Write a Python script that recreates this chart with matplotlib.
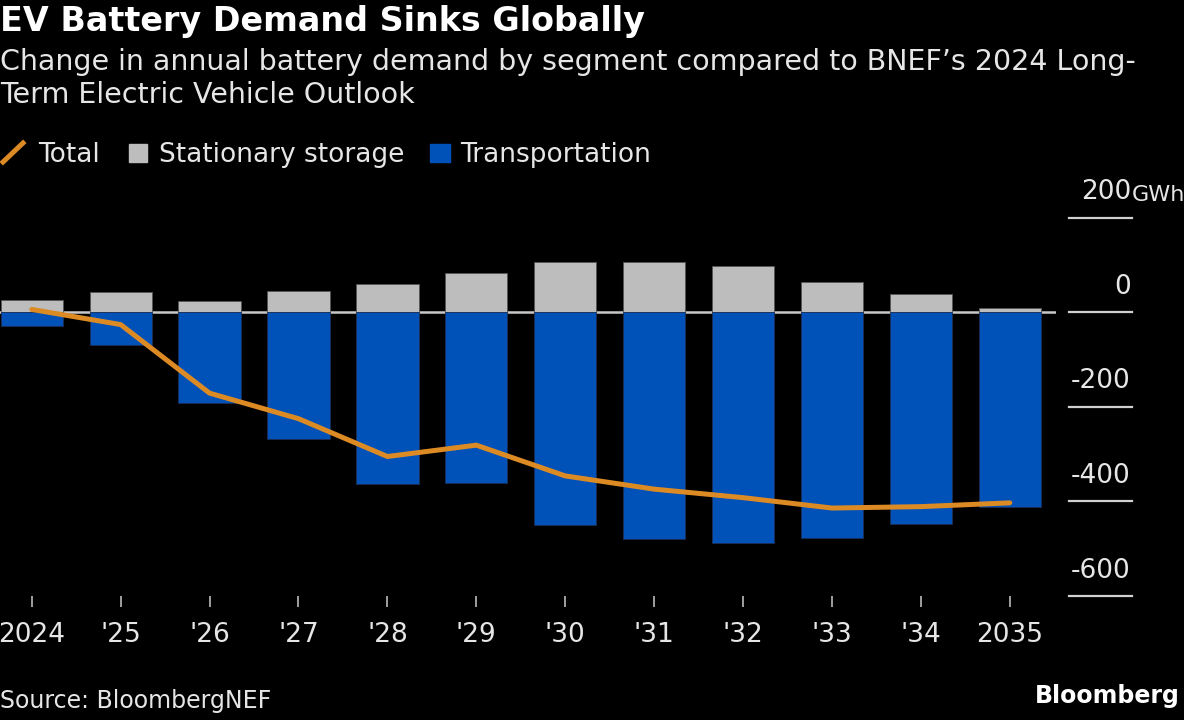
import matplotlib
matplotlib.use("Agg")
import matplotlib.pyplot as plt
import matplotlib.transforms as mtransforms
from matplotlib.lines import Line2D
from matplotlib.patches import Rectangle
import numpy as np

# values (GWh, change vs 2024 outlook)
years = ['2024', "'25", "'26", "'27", "'28", "'29", "'30", "'31", "'32", "'33", "'34", '2035']
stationary = [27, 43, 23, 44, 60, 82, 107, 107, 98, 65, 38, 9]
transport = [-30, -70, -192, -267, -364, -362, -450, -479, -488, -477, -448, -411]
total = [6, -26, -171, -225, -305, -281, -346, -374, -392, -414, -411, -403]
yticks = [200, 0, -200, -400, -600]

BG = 'black'
TXT = '#e6e6e6'
GRAY = '#bdbdbd'
BLUE = '#0051b8'
ORANGE = '#dc8a24'

W, H = 1184, 720
plt.rcParams['font.family'] = 'DejaVu Sans'

fig = plt.figure(figsize=(W / 100, H / 100), dpi=100, facecolor=BG)

def fx(px):
    return px / W

def fy(py):
    return 1 - py / H

# plot area: left edge 0, right 1056, y 200 at 217.7px, -600 at 596px
ax = fig.add_axes([fx(0), fy(596), fx(1056), (596 - 217.7) / H])
ax.set_facecolor(BG)
x = np.arange(len(years))

ax.axhline(0, color='#c8c8c8', lw=1.8, zorder=1)
ax.bar(x, stationary, width=0.7, color=GRAY, edgecolor='#555555', linewidth=0.6, zorder=2)
ax.bar(x, transport, width=0.7, color=BLUE, edgecolor='#1c2f55', linewidth=0.6, zorder=2)
ax.plot(x, total, color=ORANGE, lw=3.6, zorder=3, solid_capstyle='round', solid_joinstyle='round')

ax.set_xlim(-0.357, 11.52)
ax.set_ylim(-600, 200)
for s in ax.spines.values():
    s.set_visible(False)
ax.set_yticks([])
ax.set_xticks(x)
ax.set_xticklabels(years, color=TXT, fontsize=19)
ax.tick_params(axis='x', direction='out', length=8, width=1.2, color='#bbbbbb', pad=11)

# right-hand value scale: short rules with labels above them
trans = mtransforms.blended_transform_factory(fig.transFigure, ax.transData)
for v in yticks:
    ax.add_line(Line2D([fx(1069), fx(1132)], [v, v], transform=trans, color='#d0d0d0', lw=1.6, clip_on=False))
    ax.annotate(str(v), xy=(fx(1131), v), xycoords=trans, xytext=(0, 9), textcoords='offset points',
                ha='right', va='bottom', color=TXT, fontsize=19, annotation_clip=False)
ax.annotate('GWh', xy=(fx(1132), 200), xycoords=trans, xytext=(0, 9), textcoords='offset points',
            ha='left', va='bottom', color=TXT, fontsize=16, annotation_clip=False)

# titles
fig.text(fx(0), fy(31), 'EV Battery Demand Sinks Globally', color='white', fontsize=24,
         fontweight='bold', va='baseline', ha='left')
fig.text(fx(0), fy(70), 'Change in annual battery demand by segment compared to BNEF\u2019s 2024 Long-',
         color=TXT, fontsize=20.5, va='baseline', ha='left')
fig.text(fx(0), fy(103), 'Term Electric Vehicle Outlook', color=TXT, fontsize=20.5, va='baseline', ha='left')

# legend
fig.add_artist(Line2D([fx(3), fx(23)], [fy(162), fy(143)], color=ORANGE, lw=3.6, transform=fig.transFigure))
fig.text(fx(38), fy(162), 'Total', color=TXT, fontsize=19, va='baseline')
fig.add_artist(Rectangle((fx(129), fy(162)), fx(18), (162 - 144) / H, color=GRAY, transform=fig.transFigure))
fig.text(fx(159), fy(162), 'Stationary storage', color=TXT, fontsize=19, va='baseline')
fig.add_artist(Rectangle((fx(430), fy(162)), fx(20), (162 - 144) / H, color=BLUE, transform=fig.transFigure))
fig.text(fx(460), fy(162), 'Transportation', color=TXT, fontsize=19, va='baseline')

# footer
fig.text(fx(0), fy(708), 'Source: BloombergNEF', color=TXT, fontsize=17, va='baseline')
fig.text(fx(1180), fy(703), 'Bloomberg', color='white', fontsize=17, fontweight='bold',
         va='baseline', ha='right')

fig.savefig('out.png', dpi=100, facecolor=BG)
